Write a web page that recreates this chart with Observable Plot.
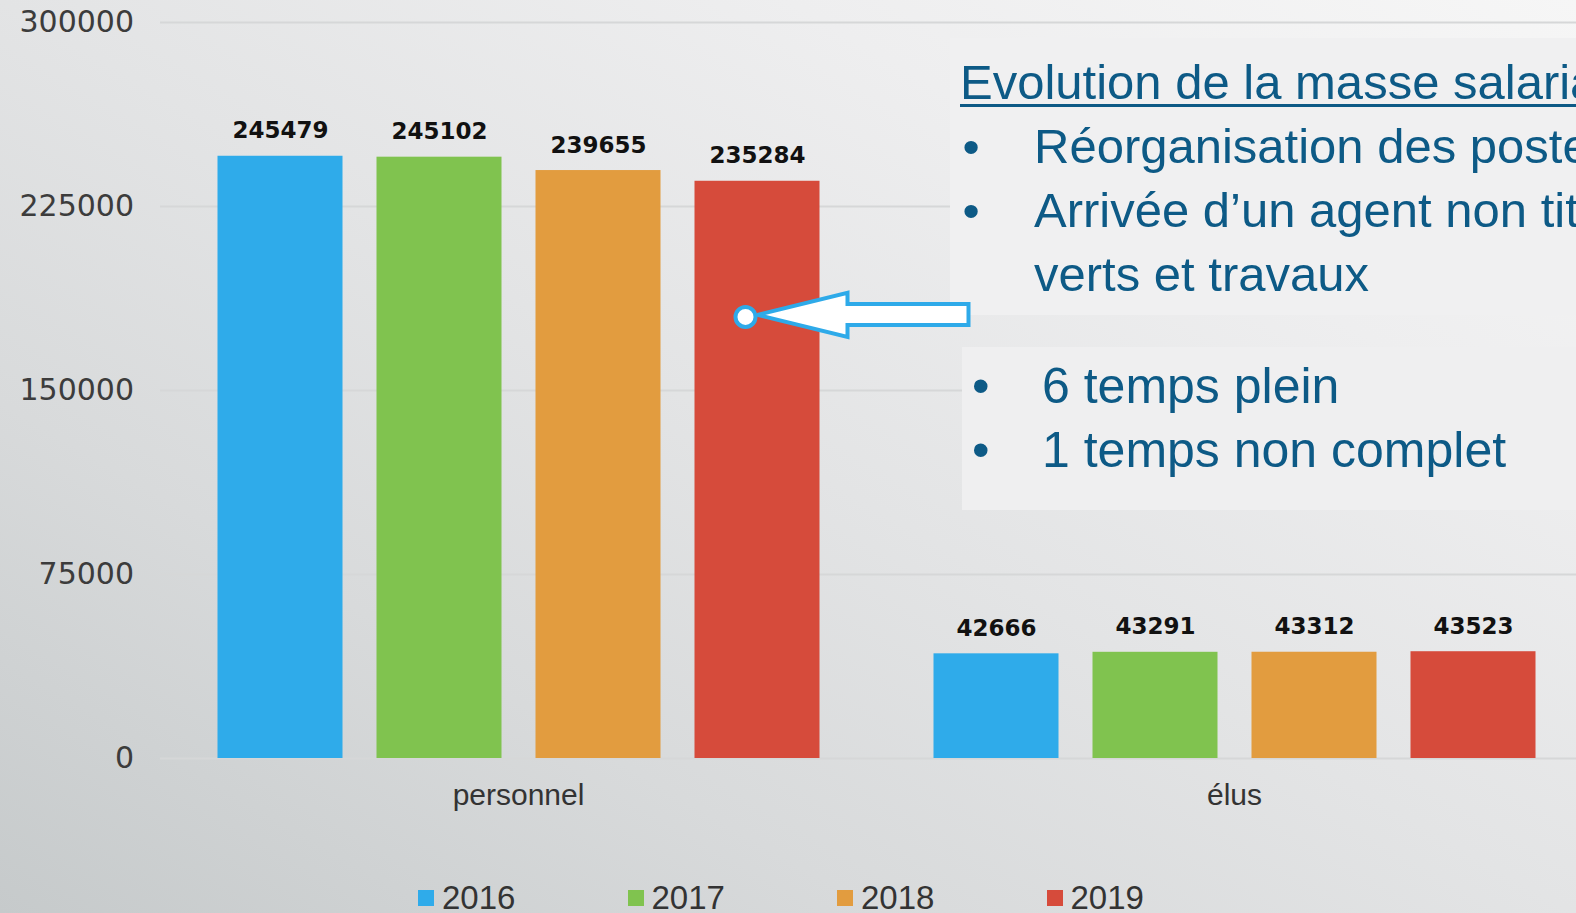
<!DOCTYPE html>
<html>
<head>
<meta charset="utf-8">
<script src="https://cdn.jsdelivr.net/npm/d3@7"></script>
<script src="https://cdn.jsdelivr.net/npm/@observablehq/plot@0.6"></script>
<style>
  html, body { margin: 0; padding: 0; overflow: hidden; width: 1576px; height: 913px; }
  #stage {
    position: relative; width: 1576px; height: 913px; overflow: hidden;
    background: linear-gradient(to top right, #c6cacb 0%, #d8dadb 28%, #e3e4e5 50%, #eeeeef 75%, #f6f6f6 100%);
  }
  #chart { position: absolute; left: 0; top: 0; width: 1600px; z-index: 1; }
  .box { position: absolute; z-index: 2; background: #f0f0f1; }
  #box1 { left: 950px; top: 38px; width: 640px; height: 277px; }
  #box2 { left: 962px; top: 347px; width: 640px; height: 163px; background: #efeff0; }
  .txt { position: absolute; z-index: 2; font-family: "Liberation Sans", Arial, sans-serif; font-size: 49px;
         line-height: 64px; color: #0d5a86; white-space: nowrap; }
  #text2 { font-size: 50px; }
  .line { position: relative; height: 64px; }
  .line .b { position: absolute; }
  .line .t { position: absolute; }
  .title { text-decoration: underline; text-decoration-thickness: 3px; text-underline-offset: 5px; }
  #overlay { position: absolute; left: 0; top: 0; z-index: 3; pointer-events: none; overflow: visible; }
  #legend { position: absolute; left: 418px; top: 881px; display: flex; z-index: 2;
            font-family: "Liberation Sans", Arial, sans-serif; font-size: 33px; line-height: 33px; color: #333; }
  #legend .item { width: 209.5px; display: flex; align-items: center; }
  #legend .sw { width: 16px; height: 16px; margin-right: 8px; flex: none; }
</style>
</head>
<body>
<div id="stage">
  <div id="chart"></div>
  <div class="box" id="box1"></div>
  <div class="box" id="box2"></div>
  <div class="txt" id="text1" style="left:0; top:50px;"></div>
  <div class="txt" id="text2" style="left:0; top:354px;"></div>
  <div id="legend"></div>
</div>
<script>
// ---- data ----
const categories = ["personnel", "élus"];
const years = ["2016", "2017", "2018", "2019"];
const personnel = [245479, 245102, 239655, 235284];
const elus = [42666, 43291, 43312, 43523];
const colors = ["#2fabea", "#80c34f", "#e29c3f", "#d64b3b"];
const yTicks = [0, 75000, 150000, 225000, 300000];
const arrowTarget = [{cat: "personnel", year: "2019", value: 180000}];

const annotationTitle = "Evolution de la masse salariale";
const annotationBullets1 = ["Réorganisation des postes", "Arrivée d’un agent non titulaire aux espaces"];
const annotationContinuation = "verts et travaux";
const annotationBullets2 = ["6 temps plein", "1 temps non complet"];

const seriesByCat = {"personnel": personnel, "élus": elus};
const rows = [];
categories.forEach(c => years.forEach((y, i) => rows.push({cat: c, year: y, value: seriesByCat[c][i]})));

// ---- chart ----
const blue = "#2eaae9";
const plot = Plot.plot({
  width: 1600, height: 860,
  marginLeft: 159.5, marginRight: 8.5, marginTop: 22, marginBottom: 102,
  style: {background: "transparent", maxWidth: "none", overflow: "visible"},
  fx: {domain: categories, padding: 0, axis: null},
  x: {domain: years, paddingInner: 0.215, paddingOuter: 0.355, axis: null},
  y: {domain: [0, 300000], axis: null},
  color: {domain: years, range: colors},
  marks: [
    Plot.gridY({ticks: yTicks, stroke: "#d6d7d8", strokeOpacity: 1, strokeWidth: 2}),
    Plot.barY(rows, {fx: "cat", x: "year", y: "value", fill: "year"}),
    Plot.text(rows, {fx: "cat", x: "year", y: "value", text: d => String(d.value),
      lineAnchor: "bottom", dy: -18, fontSize: 23, fontWeight: "bold",
      fontFamily: "DejaVu Sans", fill: "#111"}),
    Plot.axisY({ticks: yTicks, tickSize: 0, tickPadding: 26.5, tickFormat: d => String(d),
      fontSize: 30, fontFamily: "DejaVu Sans", color: "#3c3c3c", label: null}),
    Plot.axisFx({anchor: "bottom", tickSize: 0, tickPadding: 25, fontSize: 30,
      fontFamily: "Liberation Sans", color: "#333", label: null}),
    Plot.dot(arrowTarget, {fx: "cat", x: "year", y: "value", r: 10, dx: -12,
      fill: "#fff", stroke: blue, strokeWidth: 4,
      render(index, scales, values, dimensions, context, next) {
        const g = next(index, scales, values, dimensions, context);
        if (index.length) {
          const i = index[0];
          const cx = values.x[i], cy = values.y[i];
          const pts = [[cx + 12, cy - 2], [cx + 102, cy - 24], [cx + 102, cy - 13], [cx + 223, cy - 13],
                       [cx + 223, cy + 8], [cx + 102, cy + 8], [cx + 102, cy + 20]];
          const path = document.createElementNS("http://www.w3.org/2000/svg", "path");
          path.setAttribute("d", "M" + pts.map(p => p.join(",")).join("L") + "Z");
          path.setAttribute("fill", "#fff");
          path.setAttribute("stroke", blue);
          path.setAttribute("stroke-width", 4);
          path.setAttribute("stroke-linejoin", "miter");
          g.insertBefore(path, g.firstChild);
          g.setAttribute("class", "arrow-mark");
        }
        return g;
      }
    })
  ]
});
document.getElementById("chart").appendChild(plot);

// move annotation arrow above the text boxes
const overlay = document.createElementNS("http://www.w3.org/2000/svg", "svg");
overlay.setAttribute("id", "overlay");
overlay.setAttribute("width", plot.getAttribute("width"));
overlay.setAttribute("height", plot.getAttribute("height"));
overlay.setAttribute("viewBox", plot.getAttribute("viewBox"));
const dotGroup = plot.querySelector('g[aria-label="dot"]');
if (dotGroup) overlay.appendChild(dotGroup);
document.getElementById("stage").appendChild(overlay);

// ---- text boxes ----
function addLine(container, bulletLeft, textLeft, text, cls) {
  const line = document.createElement("div");
  line.className = "line";
  if (bulletLeft != null) {
    const b = document.createElement("span");
    b.className = "b"; b.style.left = bulletLeft + "px"; b.textContent = "•";
    line.appendChild(b);
  }
  const t = document.createElement("span");
  t.className = "t" + (cls ? " " + cls : ""); t.style.left = textLeft + "px"; t.textContent = text;
  line.appendChild(t);
  container.appendChild(line);
}
const t1 = document.getElementById("text1");
addLine(t1, null, 960, annotationTitle, "title");
addLine(t1, 962.5, 1034, annotationBullets1[0]);
addLine(t1, 962.5, 1034, annotationBullets1[1]);
addLine(t1, null, 1034, annotationContinuation);
const t2 = document.getElementById("text2");
annotationBullets2.forEach(s => addLine(t2, 972, 1042, s));

// ---- legend ----
const legend = document.getElementById("legend");
years.forEach((y, i) => {
  const item = document.createElement("div");
  item.className = "item";
  const sw = document.createElement("span");
  sw.className = "sw"; sw.style.background = colors[i];
  const lab = document.createElement("span");
  lab.textContent = y;
  item.appendChild(sw); item.appendChild(lab);
  legend.appendChild(item);
});
</script>
</body>
</html>
